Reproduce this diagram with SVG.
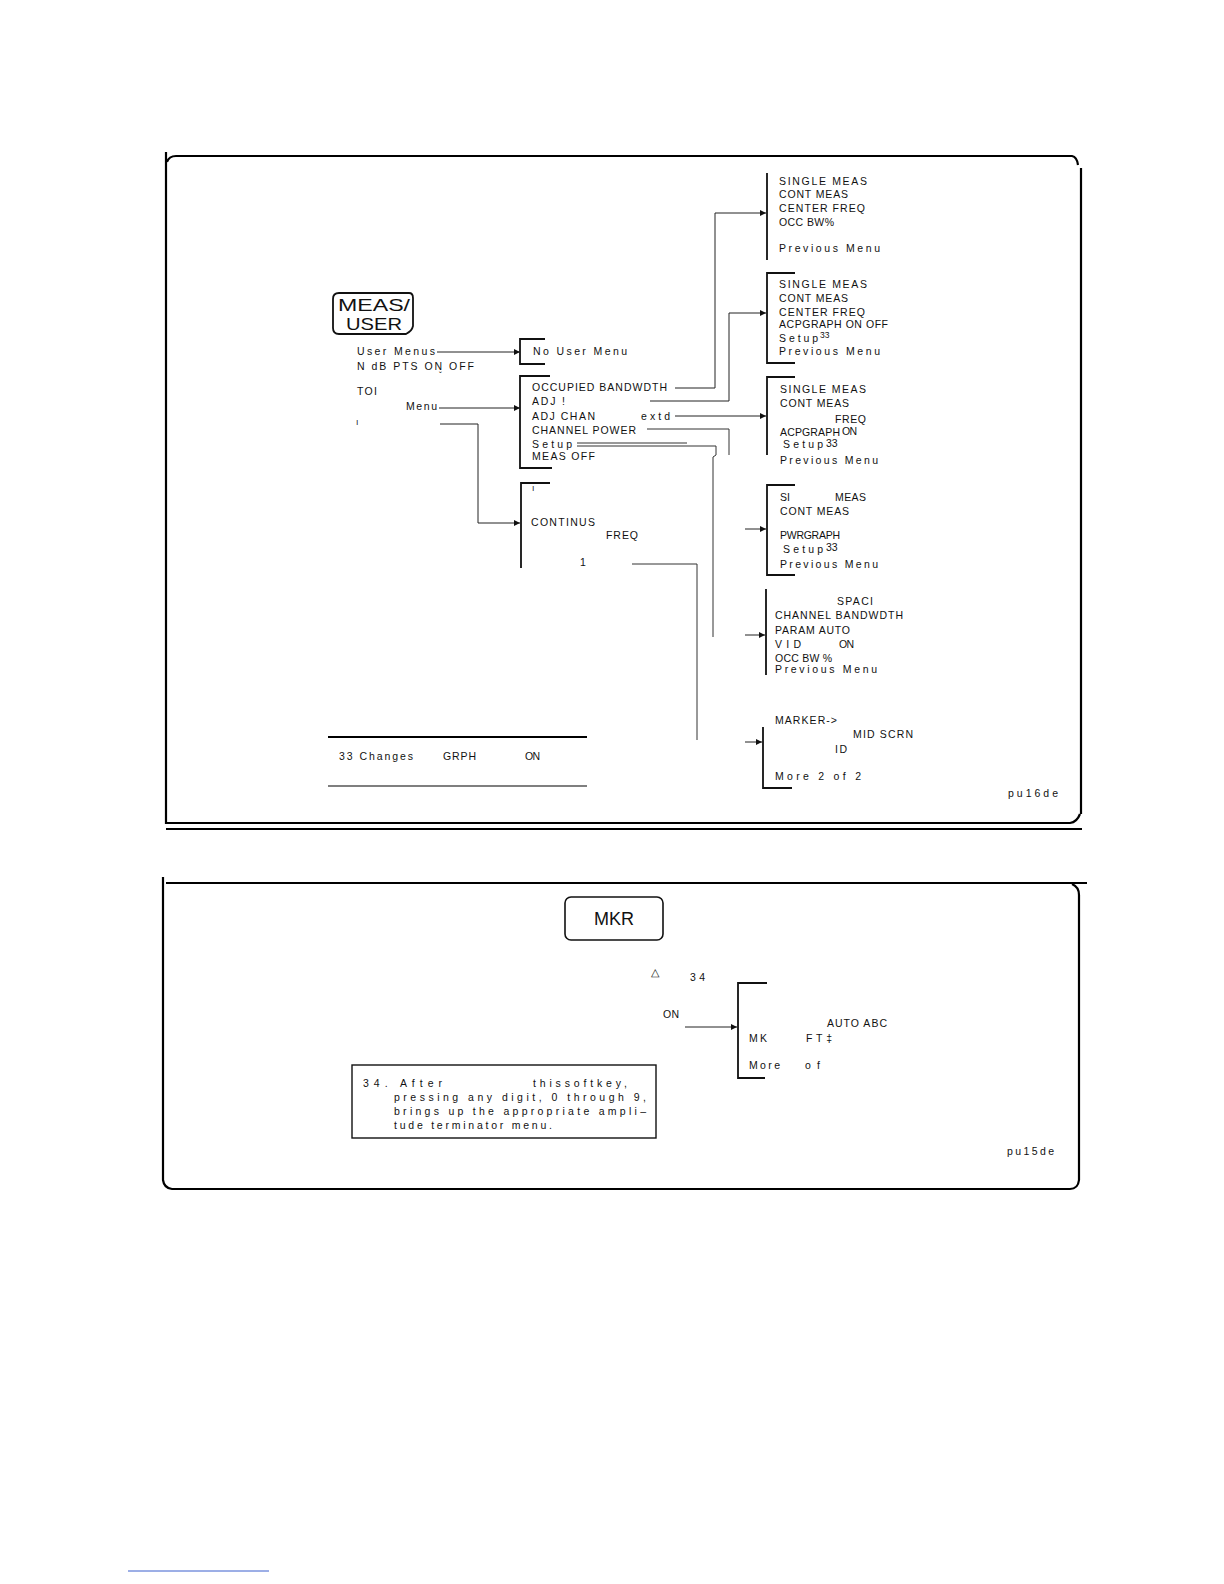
<svg xmlns="http://www.w3.org/2000/svg" width="1224" height="1584" viewBox="0 0 1224 1584">
<defs>
<style>
.t{font-family:"Liberation Sans",Arial,sans-serif;font-size:10.5px;fill:#111}
.s{font-family:"Liberation Sans",Arial,sans-serif;font-size:8.5px;fill:#111}
.k{font-family:"Liberation Sans",Arial,sans-serif;fill:#111}
.fr{fill:none;stroke:#000;stroke-width:2.2}
.br{fill:none;stroke:#111;stroke-width:1.8}
.cn{fill:none;stroke:#333;stroke-width:1}
.ar{fill:none;stroke:#222;stroke-width:1;marker-end:url(#ah)}
</style>
<marker id="ah" viewBox="0 0 10 10" refX="10" refY="5" markerWidth="10" markerHeight="6" markerUnits="userSpaceOnUse" orient="auto">
<path d="M0,0 L10,5 L0,10 z" fill="#111"/>
</marker>
</defs>
<rect width="1224" height="1584" fill="#fff"/>

<g id="frame1">
<path class="fr" d="M166,152 L166,824"/>
<path class="fr" d="M167,162 Q169,156 176,156 L1072,156 Q1077,157 1078,165"/>
<path class="fr" d="M1081,168 L1081,814"/>
<path class="fr" d="M166,823 L1070,823 Q1077,822 1080,814"/>
<path class="fr" d="M166,829 L1082,829"/>
<text class="t" x="1008" y="797" textLength="50" lengthAdjust="spacing">pu16de</text>
</g>

<g id="frame2">
<path class="fr" d="M166,883 L1087,883"/>
<path class="fr" d="M1072,884 Q1079,887 1079,895 L1079,1180 Q1078,1189 1070,1189 L172,1189 Q164,1188 163,1180 L163,877"/>
<text class="t" x="1007" y="1155" textLength="47" lengthAdjust="spacing">pu15de</text>
</g>

<g id="meas-user-key">
<path class="br" d="M339,293 L409,293 Q413,293 413,298 L413,326 Q412,331 406,334 L339,334 Q333,334 333,328 L333,299 Q333,293 339,293 z" stroke-width="1.6"/>
<text class="k" x="338" y="311" font-size="17" textLength="72" lengthAdjust="spacingAndGlyphs">MEAS/</text>
<text class="k" x="346" y="330" font-size="17" textLength="56" lengthAdjust="spacingAndGlyphs">USER</text>
</g>

<g id="meas-softkeys">
<text class="t" x="357" y="355" textLength="78" lengthAdjust="spacing">User Menus</text>
<text class="t" x="357" y="370" textLength="117" lengthAdjust="spacing">N dB PTS ON OFF</text>
<text class="s" x="439" y="378">ˇ</text>
<text class="t" x="357" y="395" textLength="20" lengthAdjust="spacing">TOI</text>
<text class="t" x="406" y="410" textLength="31" lengthAdjust="spacing">Menu</text>
<text class="s" x="356" y="425">ı</text>
</g>

<g id="no-user-menu">
<path class="br" d="M545,339 L520,339 L520,364 L545,364"/>
<text class="t" x="533" y="355" textLength="94" lengthAdjust="spacing">No User Menu</text>
</g>

<g id="meas-menu">
<path class="br" d="M550,376 L520,376 L520,468 L552,468"/>
<text class="t" x="532" y="391" textLength="135" lengthAdjust="spacing">OCCUPIED BANDWDTH</text>
<text class="t" x="532" y="405" textLength="33" lengthAdjust="spacing">ADJ !</text>
<text class="t" x="532" y="420" textLength="63" lengthAdjust="spacing">ADJ CHAN</text>
<text class="t" x="641" y="420" textLength="29" lengthAdjust="spacing">extd</text>
<text class="t" x="532" y="434" textLength="104" lengthAdjust="spacing">CHANNEL POWER</text>
<text class="t" x="532" y="448" textLength="40" lengthAdjust="spacing">Setup</text>
<text class="t" x="532" y="460" font-size="9.5" textLength="63" lengthAdjust="spacing">MEAS OFF</text>
</g>

<g id="continus-menu">
<path class="br" d="M550,483 L521,483 L521,568"/>
<text class="s" x="532" y="491">ı</text>
<text class="t" x="531" y="526" textLength="64" lengthAdjust="spacing">CONTINUS</text>
<text class="t" x="606" y="539" textLength="32" lengthAdjust="spacing">FREQ</text>
<text class="t" x="580" y="566">1</text>
</g>

<g id="occ-bw-menu">
<path class="br" d="M767,173 L767,260"/>
<text class="t" x="779" y="185" textLength="88" lengthAdjust="spacing">SINGLE MEAS</text>
<text class="t" x="779" y="198" textLength="69" lengthAdjust="spacing">CONT MEAS</text>
<text class="t" x="779" y="212" textLength="86" lengthAdjust="spacing">CENTER FREQ</text>
<text class="t" x="779" y="226" textLength="55" lengthAdjust="spacing">OCC BW%</text>
<text class="t" x="779" y="252" textLength="101" lengthAdjust="spacing">Previous Menu</text>
</g>

<g id="adj-menu">
<path class="br" d="M795,273 L767,273 L767,363 L795,363"/>
<text class="t" x="779" y="288" textLength="88" lengthAdjust="spacing">SINGLE MEAS</text>
<text class="t" x="779" y="302" textLength="69" lengthAdjust="spacing">CONT MEAS</text>
<text class="t" x="779" y="316" textLength="86" lengthAdjust="spacing">CENTER FREQ</text>
<text class="t" x="779" y="328" textLength="109" lengthAdjust="spacing">ACPGRAPH ON OFF</text>
<text class="t" x="779" y="342" textLength="39" lengthAdjust="spacing">Setup</text>
<text class="s" x="820" y="338">33</text>
<text class="t" x="779" y="355" textLength="101" lengthAdjust="spacing">Previous Menu</text>
</g>

<g id="adj-extd-menu">
<path class="br" d="M795,377 L767,377 L767,455"/>
<text class="t" x="780" y="393" textLength="86" lengthAdjust="spacing">SINGLE MEAS</text>
<text class="t" x="780" y="407" textLength="69" lengthAdjust="spacing">CONT MEAS</text>
<text class="t" x="835" y="423" textLength="31" lengthAdjust="spacing">FREQ</text>
<text class="t" x="780" y="436" textLength="60" lengthAdjust="spacing">ACPGRAPH</text>
<text class="t" x="842" y="435" textLength="15" lengthAdjust="spacing">ON</text>
<text class="t" x="783" y="448" textLength="40" lengthAdjust="spacing">Setup</text>
<text class="t" x="826" y="447">33</text>
<text class="t" x="780" y="464" textLength="98" lengthAdjust="spacing">Previous Menu</text>
</g>

<g id="channel-power-menu">
<path class="br" d="M795,485 L767,485 L767,575 L795,575"/>
<text class="t" x="780" y="501" textLength="10" lengthAdjust="spacing">SI</text>
<text class="t" x="835" y="501" textLength="31" lengthAdjust="spacing">MEAS</text>
<text class="t" x="780" y="515" textLength="69" lengthAdjust="spacing">CONT MEAS</text>
<text class="t" x="780" y="539" textLength="60" lengthAdjust="spacing">PWRGRAPH</text>
<text class="t" x="783" y="553" textLength="40" lengthAdjust="spacing">Setup</text>
<text class="t" x="826" y="551">33</text>
<text class="t" x="780" y="568" textLength="98" lengthAdjust="spacing">Previous Menu</text>
</g>

<g id="setup-menu">
<path class="br" d="M766,589 L766,675"/>
<text class="t" x="837" y="605" textLength="36" lengthAdjust="spacing">SPACI</text>
<text class="t" x="775" y="619" textLength="128" lengthAdjust="spacing">CHANNEL BANDWDTH</text>
<text class="t" x="775" y="634" textLength="75" lengthAdjust="spacing">PARAM AUTO</text>
<text class="t" x="775" y="648" textLength="26" lengthAdjust="spacing">VID</text>
<text class="t" x="839" y="648" textLength="15" lengthAdjust="spacing">ON</text>
<text class="t" x="775" y="662" textLength="57" lengthAdjust="spacing">OCC BW %</text>
<text class="t" x="775" y="673" textLength="102" lengthAdjust="spacing">Previous Menu</text>
</g>

<g id="marker-menu">
<path class="br" d="M763,727 L763,788 L792,788"/>
<text class="t" x="775" y="724" textLength="62" lengthAdjust="spacing">MARKER-&gt;</text>
<text class="t" x="853" y="738" textLength="60" lengthAdjust="spacing">MID SCRN</text>
<text class="t" x="835" y="753" textLength="12" lengthAdjust="spacing">ID</text>
<text class="t" x="775" y="780" textLength="86" lengthAdjust="spacing">More 2 of 2</text>
</g>

<g id="note-33">
<path d="M328,737 L587,737" stroke="#000" stroke-width="2" fill="none"/>
<path d="M328,786 L587,786" stroke="#000" stroke-width="1.2" fill="none"/>
<text class="t" x="339" y="760" textLength="74" lengthAdjust="spacing">33 Changes</text>
<text class="t" x="443" y="760" textLength="33" lengthAdjust="spacing">GRPH</text>
<text class="t" x="525" y="760" textLength="15" lengthAdjust="spacing">ON</text>
</g>

<g id="mkr-key">
<rect x="565" y="897" width="98" height="43" rx="6" fill="none" stroke="#111" stroke-width="1.6"/>
<text class="k" x="614" y="925" font-size="18" text-anchor="middle">MKR</text>
</g>

<g id="mkr-softkeys">
<text class="t" x="651" y="976" font-size="15">△</text>
<text class="t" x="690" y="981" textLength="15" lengthAdjust="spacing">34</text>
<text class="t" x="663" y="1018" textLength="16" lengthAdjust="spacing">ON</text>
</g>

<g id="mkr-menu">
<path class="br" d="M767,983 L738,983 L738,1078 L765,1078"/>
<text class="t" x="827" y="1027" textLength="60" lengthAdjust="spacing">AUTO ABC</text>
<text class="t" x="749" y="1042" textLength="18" lengthAdjust="spacing">MK</text>
<text class="t" x="806" y="1042" textLength="26" lengthAdjust="spacing">F T ‡</text>
<text class="t" x="749" y="1069" textLength="31" lengthAdjust="spacing">More</text>
<text class="t" x="805" y="1069" textLength="15" lengthAdjust="spacing">of</text>
</g>

<g id="note-34">
<rect x="352" y="1065" width="304" height="73" fill="none" stroke="#111" stroke-width="1.4"/>
<text class="t" x="363" y="1087" textLength="79" lengthAdjust="spacing">34. After</text>
<text class="t" x="533" y="1087" textLength="94" lengthAdjust="spacing">thissoftkey,</text>
<text class="t" x="394" y="1101" textLength="252" lengthAdjust="spacing">pressing any digit, 0 through 9,</text>
<text class="t" x="394" y="1115" textLength="252" lengthAdjust="spacing">brings up the appropriate ampli–</text>
<text class="t" x="394" y="1129" textLength="158" lengthAdjust="spacing">tude terminator menu.</text>
</g>

<g id="connectors">
<path class="ar" d="M437,352 L520,352"/>
<path class="ar" d="M439,408 L520,408"/>
<path class="ar" d="M440,424 L478,424 L478,523 L520,523"/>
<path class="ar" d="M675,388 L715,388 L715,213 L766,213"/>
<path class="ar" d="M650,401 L729,401 L729,313 L766,313"/>
<path class="ar" d="M675,416 L766,416"/>
<path class="cn" d="M647,429 L729,429 L729,455"/>
<path class="cn" d="M577,443 L687,443"/>
<path class="cn" d="M577,446 L716,446 L716,455 L713,457 L713,637"/>
<path class="cn" d="M632,564 L697,564 L697,740"/>
<path class="ar" d="M745,529 L766,529"/>
<path class="ar" d="M745,635 L765,635"/>
<path class="ar" d="M745,742 L762,742"/>
<path class="ar" d="M685,1027 L737,1027"/>
</g>

<g id="footer">
<path d="M128,1571 L269,1571" stroke="#3a5fcd" stroke-width="1" fill="none"/>
</g>
</svg>
